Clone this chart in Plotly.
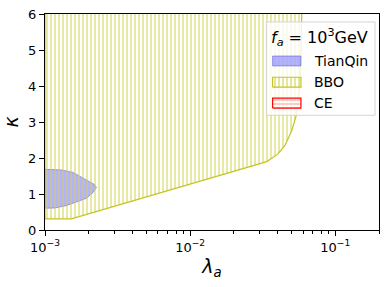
import plotly.graph_objects as go

# TianQin region (lambda_a, kappa)
tq_lam = [0.9e-3, 1.0e-3, 1.17e-3, 1.41e-3, 1.65e-3, 1.93e-3, 2.14e-3, 2.26e-3, 2.20e-3, 2.03e-3, 1.83e-3, 1.56e-3, 1.30e-3, 1.0e-3, 0.9e-3]
tq_kap = [0.60, 0.60, 0.61, 0.68, 0.79, 0.88, 1.04, 1.18, 1.26, 1.34, 1.46, 1.60, 1.67, 1.69, 1.69]

# BBO region
bbo_lam = [1.0e-3, 1.52e-3, 0.0337, 0.0400, 0.0450, 0.0500, 0.0541, 0.0566, 0.0580, 0.0588, 0.0590, 1.0e-3, 1.0e-3]
bbo_kap = [0.31, 0.31, 1.90, 2.10, 2.35, 2.75, 3.21, 3.90, 4.80, 6.0, 6.6, 6.6, 0.31]

# CE region (outside the shown range)
ce_lam = [1.0, 2.0, 2.0, 1.0, 1.0]
ce_kap = [1.0, 1.0, 2.0, 2.0, 1.0]

legend_names = ["TianQin", "BBO", "CE"]
legend_title = "<i>f</i><sub><i>a</i></sub> = 10<sup>3</sup>GeV"

minor_vals = [m * 10**e for e in (-3, -2, -1) for m in range(2, 10) if m * 10**e <= 0.2]

TQ_FILL = "rgba(0,0,255,0.3)"
TQ_LINE = "rgba(60,60,230,0.45)"
BBO_PAT = dict(shape="|", size=4, solidity=0.5, fgcolor="#d2d250", bgcolor="rgba(0,0,0,0)")
BBO_LINE = "#c4c420"
CE_PAT = dict(shape="-", size=4, solidity=0.45, fgcolor="#ff9090", bgcolor="rgba(0,0,0,0)")
CE_LINE = "red"

fig = go.Figure()
fig.add_trace(go.Scatter(
    x=tq_lam, y=tq_kap, mode="lines", fill="toself", name=legend_names[0], showlegend=False,
    fillcolor=TQ_FILL, line=dict(color=TQ_LINE, width=1),
))
fig.add_trace(go.Scatter(
    x=bbo_lam, y=bbo_kap, mode="lines", fill="toself", name=legend_names[1], showlegend=False,
    fillcolor="rgba(0,0,0,0)", fillpattern=BBO_PAT, line=dict(color=BBO_LINE, width=1.2),
))
fig.add_trace(go.Scatter(
    x=ce_lam, y=ce_kap, mode="lines", fill="toself", name=legend_names[2], showlegend=False,
    fillcolor="rgba(0,0,0,0)", fillpattern=CE_PAT, line=dict(color=CE_LINE, width=1.2),
))

# ---- legend drawn on an overlay axis (fractions of the plot area) ----
def rect(x0, x1, y0, y1):
    return [x0, x1, x1, x0, x0], [y0, y0, y1, y1, y0]

bx, by = rect(0.6627, 0.9881, 0.5310, 0.9632)
fig.add_trace(go.Scatter(x=bx, y=by, xaxis="x2", yaxis="y2", mode="lines", fill="toself",
                         fillcolor="rgba(255,255,255,0.8)", line=dict(color="#d4d4d4", width=1),
                         showlegend=False, hoverinfo="skip"))
patch_y = [0.7825, 0.6841, 0.5876]
styles = [
    dict(fillcolor=TQ_FILL, line=dict(color=TQ_LINE, width=1)),
    dict(fillcolor="rgba(0,0,0,0)", fillpattern=BBO_PAT, line=dict(color=BBO_LINE, width=1.2)),
    dict(fillcolor="rgba(0,0,0,0)", fillpattern=CE_PAT, line=dict(color=CE_LINE, width=1.2)),
]
for name, cy, st in zip(legend_names, patch_y, styles):
    px_, py_ = rect(0.6815, 0.7663, cy - 0.023, cy + 0.023)
    fig.add_trace(go.Scatter(x=px_, y=py_, xaxis="x2", yaxis="y2", mode="lines", fill="toself",
                             showlegend=False, hoverinfo="skip", **st))
    fig.add_annotation(x=0.799, y=cy, xref="x2", yref="y2", text=name, showarrow=False,
                       xanchor="left", yanchor="middle", font=dict(size=14, color="black"))
fig.add_annotation(x=0.822, y=0.893, xref="x2", yref="y2", text=legend_title, showarrow=False,
                   xanchor="center", yanchor="middle", font=dict(size=16, color="black"))

font = "DejaVu Sans"
fig.update_layout(
    width=387, height=287,
    margin=dict(l=45, r=7, t=12, b=57),
    plot_bgcolor="white", paper_bgcolor="white",
    font=dict(family=font, size=13, color="black"),
    showlegend=False,
    xaxis=dict(
        type="log", range=[-3, -0.699],
        showline=True, linecolor="black", linewidth=1, mirror=True,
        ticks="outside", ticklen=5, tickcolor="black",
        tickvals=[1e-3, 1e-2, 1e-1], ticktext=["10<sup>\u22123</sup>", "10<sup>\u22122</sup>", "10<sup>\u22121</sup>"],
        minor=dict(ticks="outside", ticklen=3, tickcolor="black", tickvals=minor_vals, showgrid=False),
        showgrid=False, zeroline=False,
        title=dict(text="<i>\u03bb</i><sub><i>a</i></sub>", font=dict(size=19), standoff=6),
        tickfont=dict(size=13),
    ),
    yaxis=dict(
        range=[0, 6],
        showline=True, linecolor="black", linewidth=1, mirror=True,
        ticks="outside", ticklen=5, tickcolor="black",
        tickvals=[0, 1, 2, 3, 4, 5, 6],
        showgrid=False, zeroline=False,
        title=dict(text="<i>\u03ba</i>", font=dict(size=19), standoff=8),
        tickfont=dict(size=13),
    ),
    xaxis2=dict(overlaying="x", range=[0, 1], visible=False, fixedrange=True),
    yaxis2=dict(overlaying="y", range=[0, 1], visible=False, fixedrange=True),
)

fig.write_html("out.html")
